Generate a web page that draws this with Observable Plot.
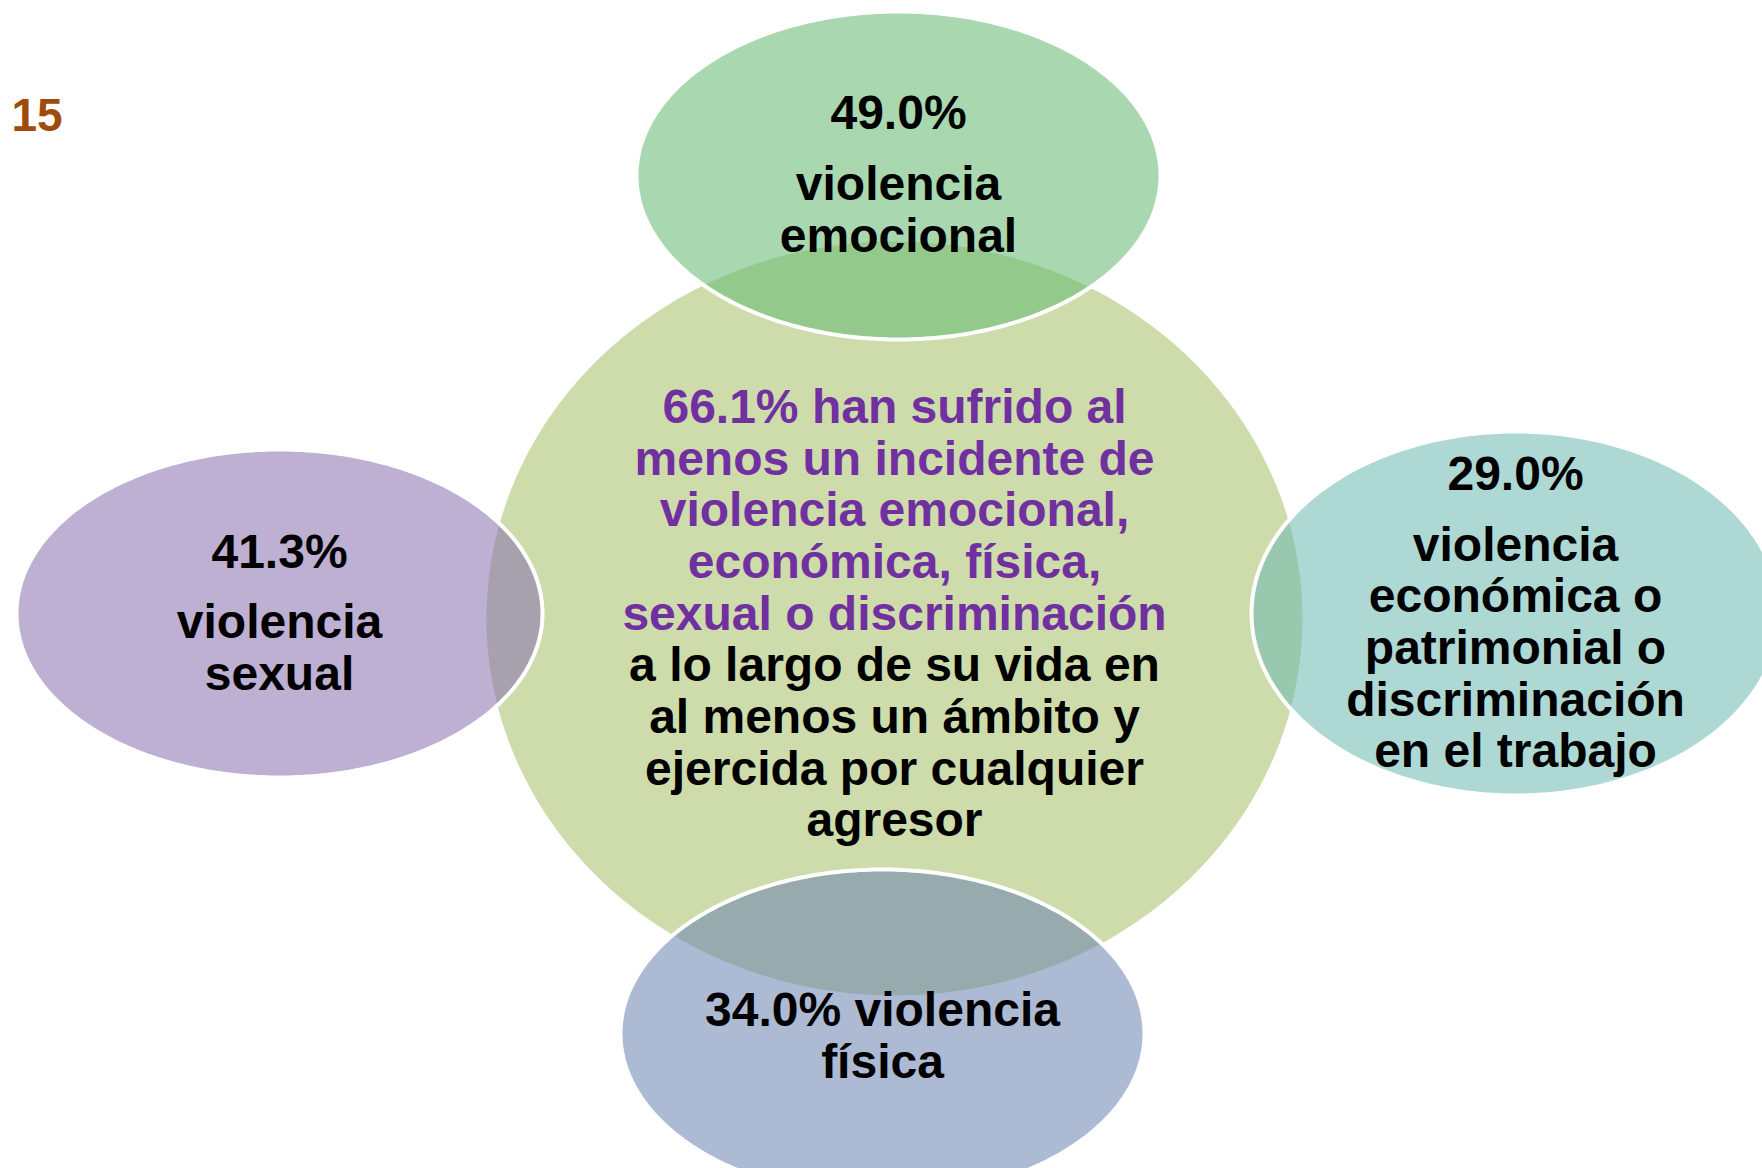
<!DOCTYPE html>
<html>
<head>
<meta charset="utf-8">
<script src="https://cdn.jsdelivr.net/npm/d3@7"></script>
<script src="https://cdn.jsdelivr.net/npm/@observablehq/plot@0.6"></script>
<style>
  html, body { margin: 0; padding: 0; background: #ffffff; overflow: hidden; }
  #chart svg { display: block; }
</style>
</head>
<body>
<div id="chart"></div>
<script>
// ---- data ----
const slideNumber = "15";
const centerValue = 66.1;
const centerHighlight = "han sufrido al\nmenos un incidente de\nviolencia emocional,\neconómica, física,\nsexual o discriminación";
const centerRest = "a lo largo de su vida en\nal menos un ámbito y\nejercida por cualquier\nagresor";
const categories = ["emocional", "economica", "fisica", "sexual"];
const values = [49.0, 29.0, 34.0, 41.3];
const labels = [
  "violencia\nemocional",
  "violencia\neconómica o\npatrimonial o\ndiscriminación\nen el trabajo",
  "violencia\nfísica",
  "violencia\nsexual"
];

// ---- layout (pixel space of the slide) ----
const W = 1762, H = 1168;
const layout = {
  center:    {cx: 894, cy: 618, rx: 408, ry: 377},
  emocional: {cx: 898, cy: 175, rx: 262, ry: 164, pctY: 112, labY: 209, color: "#65b972"},
  economica: {cx: 1515, cy: 613, rx: 264, ry: 182, pctY: 473, labY: 647, color: "#6eb9b2"},
  fisica:    {cx: 882, cy: 1033, rx: 262, ry: 164, pctY: null, labY: 1035, color: "#6d84b2"},
  sexual:    {cx: 279, cy: 613, rx: 263, ry: 164, pctY: 551, labY: 647, color: "#8972af"}
};
const fmt = v => v.toFixed(1) + "%";

function ellipse(id, g, n = 360) {
  return d3.range(n).map(i => {
    const t = 2 * Math.PI * i / n;
    return {id, x: g.cx + g.rx * Math.cos(t), y: g.cy + g.ry * Math.sin(t)};
  });
}

const font = "'Liberation Sans', Arial, Helvetica, sans-serif";
const textOpts = {fontSize: 48, fontWeight: "bold", fontFamily: font, lineHeight: 1.077, lineAnchor: "middle", textAnchor: "middle"};

const rows = categories.map((c, i) => {
  const g = layout[c];
  const isInline = g.pctY == null;
  return {
    cat: c,
    x: g.cx,
    pctY: g.pctY,
    labY: g.labY,
    pct: fmt(values[i]),
    label: isInline ? fmt(values[i]) + " " + labels[i] : labels[i],
    inline: isInline
  };
});

const marks = [
  Plot.line(ellipse("center", layout.center), {x: "x", y: "y", curve: "linear-closed", fill: "#cddcaa", stroke: "none"})
];
categories.forEach(c => {
  const g = layout[c];
  marks.push(Plot.line(ellipse(c, g), {
    x: "x", y: "y", curve: "linear-closed",
    fill: g.color, fillOpacity: 0.56,
    stroke: "#ffffff", strokeWidth: 4, strokeOpacity: 1
  }));
});

marks.push(
  Plot.text(rows.filter(d => !d.inline), {x: "x", y: "pctY", text: "pct", fill: "#000000", ...textOpts}),
  Plot.text(rows, {x: "x", y: "labY", text: "label", fill: "#000000", ...textOpts}),
  Plot.text([fmt(centerValue) + " " + centerHighlight], {x: layout.center.cx, y: 509.3, text: d => d, fill: "#7030a0", ...textOpts}),
  Plot.text([centerRest], {x: layout.center.cx, y: 741.8, text: d => d, fill: "#000000", ...textOpts}),
  Plot.text([slideNumber], {x: 11, y: 116, text: d => d, fill: "#9e4b0b", fontSize: 46, fontWeight: "bold", fontFamily: font, textAnchor: "start", lineAnchor: "middle"})
);

const chart = Plot.plot({
  width: W,
  height: H,
  margin: 0,
  x: {domain: [0, W], axis: null},
  y: {domain: [0, H], reverse: true, axis: null},
  style: {background: "#ffffff", overflow: "hidden"},
  marks
});
document.getElementById("chart").append(chart);
</script>
</body>
</html>
